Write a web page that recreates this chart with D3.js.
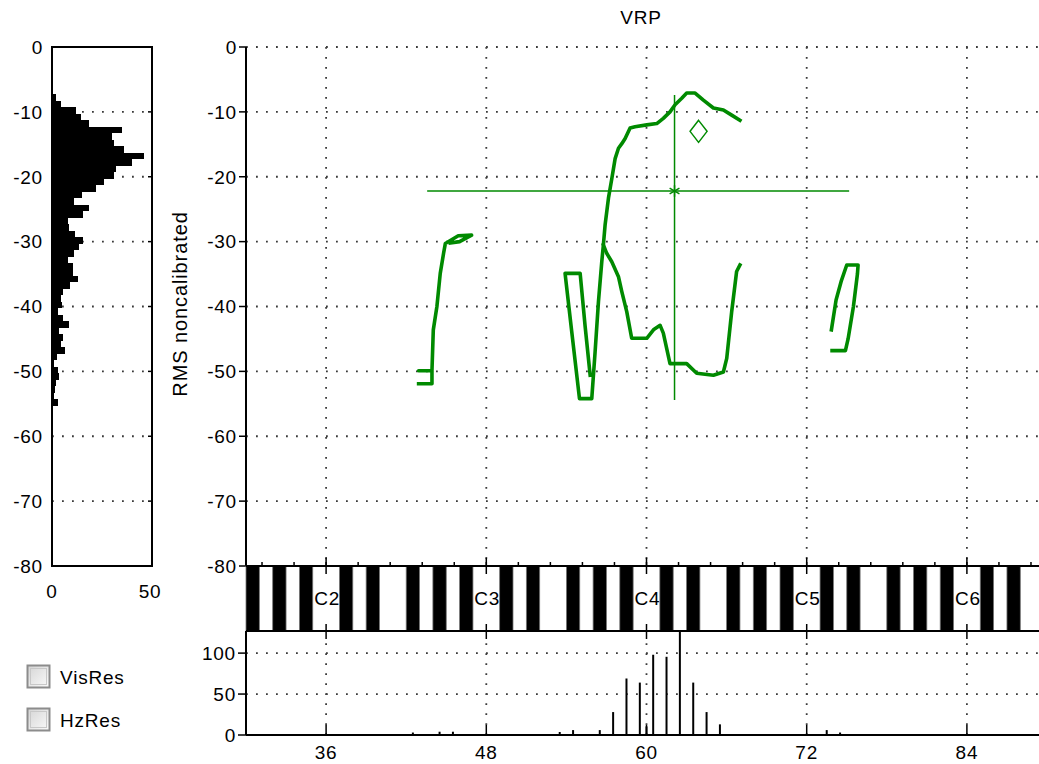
<!DOCTYPE html>
<html><head><meta charset="utf-8">
<script src="https://cdn.jsdelivr.net/npm/d3@7"></script>
<style>
html,body{margin:0;padding:0;background:#fff;overflow:hidden}
svg{display:block;font-family:"Liberation Sans",Arial,sans-serif}
</style></head><body>
<svg id="c" width="1039" height="764"></svg>
<script>
// Voice range profile (VRP): pitch in semitones (MIDI) against RMS level.

// Axis ticks and labels
const semitoneTicks = [36, 48, 60, 72, 84];
const octaveNotes = [36, 48, 60, 72, 84];
const octaveLabels = ["C2", "C3", "C4", "C5", "C6"];
const levelTicks = [0, -10, -20, -30, -40, -50, -60, -70, -80];
const levelHistTicks = [0, 50];
const pitchHistTicks = [0, 50, 100];
const optionLabels = ["VisRes", "HzRes"];

// Level histogram (side panel): bin centre in dB and count
const levelBins = [-6.8, -7.8, -8.8, -9.8, -10.8, -11.8, -12.8, -13.8, -14.8, -15.8,
  -16.8, -17.8, -18.8, -19.8, -20.8, -21.8, -22.8, -23.8, -24.8, -25.8,
  -26.8, -27.8, -28.8, -29.8, -30.8, -31.8, -32.8, -33.8, -34.8, -35.8,
  -36.8, -37.8, -38.8, -39.8, -40.8, -41.8, -42.8, -43.8, -44.8, -45.8,
  -46.8, -47.8, -48.8, -49.8, -50.8, -51.8, -52.8, -53.8, -54.8];
const levelCounts = [0.5, 2, 4.5, 12, 14.5, 18.5, 35, 30, 31, 36,
  46, 40, 32, 31, 26, 22, 15, 11, 18.5, 15.5,
  7.8, 8.5, 11.5, 15.5, 13.5, 11, 7.8, 10.3, 10.3, 12.8,
  9, 5.3, 4.5, 5, 2.8, 5.5, 8.7, 3.5, 5.5, 4.5,
  6.7, 2.7, 1.2, 2.8, 3.7, 2, 1.7, 0.8, 2.8];

// Pitch histogram (bottom panel): note position and count
const pitchBins = [42.5, 44.5, 45.5, 53.5, 54.5, 56.5, 57.5, 58.5, 59.5, 60, 60.5, 61.5, 62.5, 63.5, 64.5, 65.5, 73.5, 74.5];
const pitchCounts = [3, 4, 4, 3.7, 6, 6, 28, 69, 64, 10.5, 98, 95.5, 150, 64, 28, 13, 6, 3];

// Contour segments: [semitone, dB]
const contourLow = [[42.93,-51.9],[43.93,-51.9],[43.93,-49.9],[42.93,-49.9],[43.93,-49.9],
  [44.03,-43.6],[44.3,-40],[44.55,-34.9],[44.8,-31.8],[44.93,-30.3],[45.9,-29.1],[46.9,-29.0],
  [46.0,-30.0],[45.3,-30.2]];
const contourUpper = [[55.78,-50.6],[55.4,-43],[55.03,-34.9],[53.9,-34.9],[54.4,-43.9],[54.98,-54.2],
  [55.9,-54.2],[56.15,-47.0],[56.4,-39.3],[56.65,-33.1],[56.77,-30.5],[56.9,-27.4],[57.15,-23.3],
  [57.4,-20.3],[57.65,-17.2],[57.9,-15.6],[58.15,-14.9],[58.4,-14.1],[58.77,-12.5],[59.14,-12.3],
  [60.02,-12.0],[60.77,-11.8],[61.26,-11.0],[61.76,-10.0],[62.14,-8.9],[62.64,-7.9],[63.01,-7.1],
  [63.64,-7.1],[64.26,-8.2],[65.01,-9.4],[65.76,-9.7],[66.38,-10.5],[67.0,-11.3]];
const contourLower = [[56.77,-30.5],[57.02,-31.8],[57.4,-33.1],[57.9,-35.4],[58.15,-37.7],[58.52,-40.8],
  [58.89,-44.9],[60.02,-44.9],[60.52,-43.6],[61.02,-42.9],[61.26,-44.1],[61.76,-48.8],[63.01,-48.8],
  [63.76,-50.3],[65.01,-50.6],[65.76,-50.1],[66.01,-48.0],[66.38,-40.8],[66.75,-34.6],[67.0,-33.6]];
const contourHigh = [[73.85,-43.6],[74.2,-39],[74.6,-36],[75.0,-33.6],[75.85,-33.6],[75.8,-35],
  [75.5,-40],[75.1,-45],[74.9,-46.8],[73.9,-46.8]];

// Centre of gravity with pitch / level spread, and target marker
const centreNote = 62.1, centreLevel = -22.2;
const noteSpread = [43.57, 75.18];
const levelSpread = [-7.4, -54.4];
const targetPoint = [63.9, -13];

const svg = d3.select("#c");
const green = "#008a00";
const font = 19;

const x = d3.scaleLinear().domain([30, 90]).range([246, 1047]);
const y = d3.scaleLinear().domain([0, -80]).range([47, 566]);
const yb = d3.scaleLinear().domain([0, 127]).range([735, 631]);
const xh = d3.scaleLinear().domain([0, 50]).range([52, 152]);
const kbTop = 566, kbBot = 631;

const defs = svg.append("defs");
const cp = defs.append("clipPath").attr("id", "plotClip");
cp.append("rect").attr("x", 246).attr("y", 47).attr("width", 800).attr("height", 519);
const cpb = defs.append("clipPath").attr("id", "botClip");
cpb.append("rect").attr("x", 246).attr("y", kbBot).attr("width", 800).attr("height", 104);
const grad = defs.append("linearGradient").attr("id", "cbFill")
  .attr("x1", 0).attr("y1", 0).attr("x2", 1).attr("y2", 1);
grad.append("stop").attr("offset", "0").attr("stop-color", "#d4d4d4");
grad.append("stop").attr("offset", "1").attr("stop-color", "#fbfbfb");

function txt(g, xx, yy, s, anchor, size) {
  return g.append("text").attr("x", xx).attr("y", yy).attr("dy", "0.36em")
    .attr("text-anchor", anchor || "middle").attr("font-size", size || font)
    .attr("letter-spacing", "0.8").attr("fill", "#000").text(s);
}
function dotted(g, x1, y1, x2, y2) {
  g.append("line").attr("x1", x1).attr("y1", y1).attr("x2", x2).attr("y2", y2)
    .attr("stroke", "#3a3a3a").attr("stroke-width", 1.8).attr("stroke-dasharray", "1.8 8.2");
}

// ---- Title and axis title
txt(svg, 641, 17, "VRP");
svg.append("text").attr("transform", "translate(187,304) rotate(-90)")
  .attr("text-anchor", "middle").attr("font-size", 20).attr("letter-spacing", "0.9")
  .text("RMS noncalibrated");

// ---- Main panel grid
const main = svg.append("g");
levelTicks.slice(0, -1).forEach(v => dotted(main, x(30), y(v), 1039, y(v)));
semitoneTicks.forEach(n => dotted(main, x(n), y(0), x(n), y(-80)));
levelTicks.forEach(v => {
  main.append("line").attr("x1", 239).attr("x2", 246).attr("y1", y(v)).attr("y2", y(v))
    .attr("stroke", "#000").attr("stroke-width", 1.5);
  txt(main, 237, y(v), String(v), "end");
});
main.append("line").attr("x1", 246).attr("x2", 246).attr("y1", y(0)).attr("y2", y(-80))
  .attr("stroke", "#000").attr("stroke-width", 2);

// ---- Contours
const line = d3.line().x(d => x(d[0])).y(d => y(d[1]));
const traces = main.append("g").attr("clip-path", "url(#plotClip)");
[contourLow, contourUpper, contourLower, contourHigh].forEach(seg => {
  traces.append("path").attr("d", line(seg)).attr("fill", "none").attr("stroke", green)
    .attr("stroke-width", 3.6).attr("stroke-linejoin", "round").attr("stroke-linecap", "square");
});
// spread cross
traces.append("line").attr("x1", x(centreNote)).attr("x2", x(centreNote))
  .attr("y1", y(levelSpread[0])).attr("y2", y(levelSpread[1])).attr("stroke", green).attr("stroke-width", 1.5);
traces.append("line").attr("x1", x(noteSpread[0])).attr("x2", x(noteSpread[1]))
  .attr("y1", y(centreLevel)).attr("y2", y(centreLevel)).attr("stroke", green).attr("stroke-width", 1.5);
traces.append("path").attr("d", d3.symbol(d3.symbolAsterisk, 90)())
  .attr("transform", `translate(${x(centreNote)},${y(centreLevel)})`)
  .attr("stroke", green).attr("stroke-width", 1.5).attr("fill", "none");
// target diamond
traces.append("path")
  .attr("d", `M0,-11 L8.5,0 L0,11 L-8.5,0 Z`)
  .attr("transform", `translate(${x(targetPoint[0])},${y(targetPoint[1])})`)
  .attr("fill", "#fff").attr("stroke", green).attr("stroke-width", 1.5);

// ---- Keyboard strip
const kb = svg.append("g");
const blackPc = new Set([1, 3, 6, 8, 10]);
const notes = d3.range(30, 90);
kb.append("rect").attr("x", x(30)).attr("y", kbTop).attr("width", 800).attr("height", kbBot - kbTop).attr("fill", "#fff");
kb.selectAll("rect.key").data(notes.filter(n => blackPc.has(n % 12))).join("rect")
  .attr("class", "key").attr("x", n => x(n)).attr("y", kbTop)
  .attr("width", n => x(n + 1) - x(n)).attr("height", kbBot - kbTop)
  .attr("fill", "#000").attr("stroke", "#777").attr("stroke-width", 0.8);
octaveNotes.forEach((n, i) => txt(kb, x(n) + 1, 598, octaveLabels[i], "middle", font));
kb.append("line").attr("x1", x(30)).attr("x2", 1039).attr("y1", kbTop).attr("y2", kbTop).attr("stroke", "#000").attr("stroke-width", 2);
kb.append("line").attr("x1", x(30)).attr("x2", 1039).attr("y1", kbBot).attr("y2", kbBot).attr("stroke", "#000").attr("stroke-width", 2);
// minor ticks every fifth of an octave, major ticks at each C
d3.range(31.2, 90, 2.4).forEach(n => {
  kb.append("line").attr("x1", x(n)).attr("x2", x(n)).attr("y1", kbTop - 4).attr("y2", kbTop)
    .attr("stroke", "#000").attr("stroke-width", 1.5);
});
semitoneTicks.forEach(n => {
  kb.append("line").attr("x1", x(n)).attr("x2", x(n)).attr("y1", kbTop - 8).attr("y2", kbTop + 8)
    .attr("stroke", "#000").attr("stroke-width", 1.5);
  kb.append("line").attr("x1", x(n)).attr("x2", x(n)).attr("y1", kbBot - 7).attr("y2", kbBot + 8)
    .attr("stroke", "#000").attr("stroke-width", 1.5);
});

// ---- Pitch histogram
const bot = svg.append("g");
pitchHistTicks.slice(1).forEach(v => dotted(bot, x(30), yb(v), 1039, yb(v)));
semitoneTicks.forEach(n => dotted(bot, x(n), yb(0), x(n), kbBot + 9));
bot.append("g").attr("clip-path", "url(#botClip)")
  .selectAll("line").data(pitchBins).join("line")
  .attr("x1", (d) => x(d)).attr("x2", d => x(d))
  .attr("y1", yb(0)).attr("y2", (d, i) => yb(pitchCounts[i]))
  .attr("stroke", "#000").attr("stroke-width", 2);
pitchHistTicks.forEach(v => {
  bot.append("line").attr("x1", 238).attr("x2", 246).attr("y1", yb(v)).attr("y2", yb(v))
    .attr("stroke", "#000").attr("stroke-width", 1.5);
  txt(bot, 236, yb(v), String(v), "end");
});
semitoneTicks.forEach(n => {
  bot.append("line").attr("x1", x(n)).attr("x2", x(n)).attr("y1", yb(0) - 10).attr("y2", yb(0))
    .attr("stroke", "#000").attr("stroke-width", 1.5);
  txt(bot, x(n), 752, String(n));
});
bot.append("line").attr("x1", 246).attr("x2", 246).attr("y1", kbBot).attr("y2", yb(0)).attr("stroke", "#000").attr("stroke-width", 2);
bot.append("line").attr("x1", 246).attr("x2", 1039).attr("y1", yb(0)).attr("y2", yb(0)).attr("stroke", "#000").attr("stroke-width", 2);

// ---- Level histogram (drawn as one stepped outline so bins join without seams)
const side = svg.append("g");
levelTicks.slice(1, -1).forEach(v => dotted(side, xh(0), y(v), xh(50), y(v)));
let stepPath = `M${xh(0)},${y(levelBins[0] + 0.5)}`;
levelBins.forEach((d, i) => {
  stepPath += `H${xh(levelCounts[i])}V${y(d - 0.5)}`;
});
stepPath += `H${xh(0)}Z`;
side.append("path").attr("d", stepPath).attr("fill", "#000").attr("shape-rendering", "crispEdges");
side.append("rect").attr("x", xh(0)).attr("y", y(0)).attr("width", xh(50) - xh(0)).attr("height", y(-80) - y(0))
  .attr("fill", "none").attr("stroke", "#000").attr("stroke-width", 2);
levelTicks.forEach(v => {
  side.append("line").attr("x1", xh(50) - 4).attr("x2", xh(50)).attr("y1", y(v)).attr("y2", y(v))
    .attr("stroke", "#000").attr("stroke-width", 1.5);
  txt(side, 43, y(v), String(v), "end");
});
levelHistTicks.forEach(v => txt(side, xh(v) + (v ? -2 : 0), 591, String(v)));

// ---- Option checkboxes
optionLabels.forEach((s, i) => {
  const yy = 665 + i * 43;
  svg.append("rect").attr("x", 27.5).attr("y", yy + 0.5).attr("width", 22).attr("height", 22)
    .attr("fill", "url(#cbFill)").attr("stroke", "#8c8c8c").attr("stroke-width", 2);
  svg.append("rect").attr("x", 30.5).attr("y", yy + 3.5).attr("width", 16).attr("height", 16)
    .attr("fill", "none").attr("stroke", "#c8c8c8").attr("stroke-width", 1);
  txt(svg, 60, yy + 12, s, "start");
});
</script>
</body></html>
